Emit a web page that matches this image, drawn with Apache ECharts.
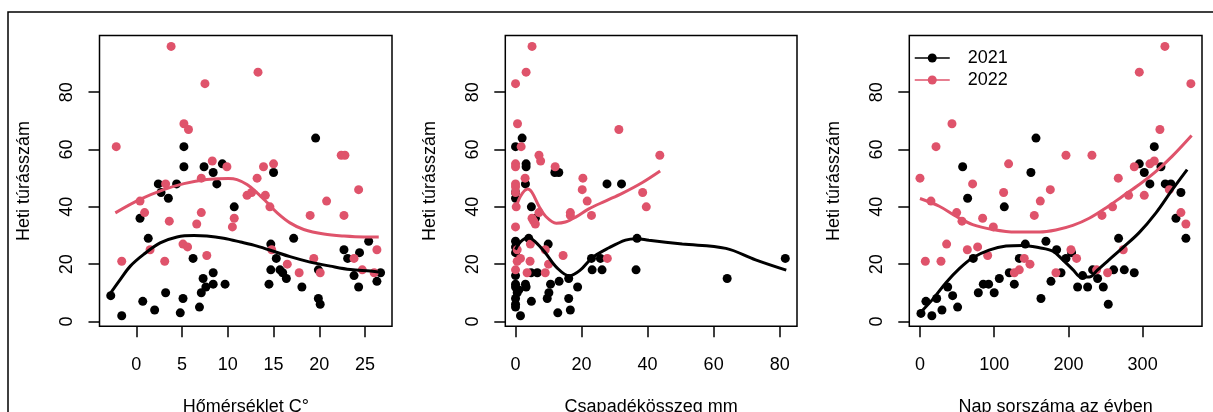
<!DOCTYPE html>
<html>
<head>
<meta charset="utf-8">
<script src="https://cdn.jsdelivr.net/npm/echarts@6/dist/echarts.min.js"></script>
<style>
html,body{margin:0;padding:0;background:#fff;}
#chart{width:1213px;height:412px;}
</style>
</head>
<body>
<div id="chart"></div>
<script>
// ---------- DATA ----------
const years = ['2021', '2022'];
const yTitle = 'Heti túrásszám';
const xTitles = ['Hőmérséklet C°', 'Csapadékösszeg mm', 'Nap sorszáma az évben'];
const yTicks = [0, 20, 40, 60, 80];
const tempTicks = [0, 5, 10, 15, 20, 25];
const precipTicks = [0, 20, 40, 60, 80];
const dayTicks = [0, 100, 200, 300];

// Panel 1: temperature vs weekly hikes
const temp2021 = [[-2.8,9],[-1.6,2],[0.4,36],[0.7,7],[1.3,29],[2.0,4],[2.4,48],[2.7,45],[3.2,10],[3.5,43],[4.4,48],[4.8,3],[5.1,8],[5.2,61],[5.2,54],[6.2,22],[6.9,5],[7.1,10],[7.3,15],[7.6,12],[8.4,13],[8.4,17],[9.7,13],[7.4,54],[8.4,52],[8.8,48],[9.4,55],[10.7,40],[14.5,13],[14.7,27],[15.0,52],[15.3,22],[14.7,18],[15.7,18],[16.0,17],[16.4,15],[17.2,29],[18.1,12],[19.6,64],[19.9,18],[19.9,8],[20.1,6],[22.7,25],[23.1,22],[23.8,16],[24.3,12],[24.4,24],[25.4,28],[26.3,14],[26.7,17]];
const temp2022 = [[-2.2,61],[-1.6,21],[0.4,42],[0.9,38],[1.5,25],[3.2,48],[3.1,21],[3.6,35],[3.8,96],[5.2,69],[5.7,67],[5.1,27],[5.6,26],[6.6,34],[7.1,38],[7.1,50],[7.5,83],[7.7,23],[8.3,56],[9.9,54],[10.5,33],[10.7,36],[12.1,44],[12.6,45],[13.3,87],[13.2,50],[13.9,54],[14.1,44],[14.6,40],[15.0,55],[14.8,25],[16.5,20],[17.8,17],[19.0,37],[19.4,22],[20.1,17],[20.8,42],[22.4,58],[22.8,58],[22.7,37],[23.8,22],[24.3,46],[24.7,18],[26.3,25],[26.0,17]];
const tempSmooth2021 = [[-2.8,10],[-1.75,14.7],[-0.66,19.3],[0.8,23.4],[2.6,27.4],[4.45,29.5],[6.3,30],[7.7,29.8],[9.55,29],[11.4,27.7],[13.2,26.3],[15.0,24.5],[16.8,22.6],[19.0,20.7],[21.2,19.3],[23.4,18.1],[25.6,17.6],[26.7,17.2]];
const tempSmooth2022 = [[-2.3,37.9],[0.4,42.6],[3.0,46],[5.2,48.1],[7.7,49.5],[10.1,49.9],[11.0,49.5],[12.1,47.8],[13.2,44.9],[14.3,41.5],[15.4,37.9],[16.8,34.4],[18.3,32.1],[20.5,30.5],[22.7,29.8],[24.9,29.5],[26.5,29.5]];

// Panel 2: precipitation vs weekly hikes
const precip2021 = [[2.0,64],[0,61],[3.2,55],[3.2,54],[11.9,52],[13.1,52],[3.0,48],[27.7,48],[32.1,48],[0,45],[0,43],[4.8,40],[6.0,36],[0,28],[0,26],[0,24],[4.0,29],[9.9,27],[36.8,29],[23,22],[25.7,22],[23.2,18],[26.2,18],[36.5,18],[81.7,22],[64.1,15],[4.7,17],[6.6,17],[0,16],[0,13],[0,12],[0.5,10],[3,13],[3.2,12],[0,8],[0,6],[0,5],[1.5,2],[4.8,7],[10.6,13],[10.1,10],[9.6,8],[13.2,14],[16.1,15],[18.8,12],[16.1,8],[16.6,4],[12.8,3],[1,11]];
const precip2022 = [[0,83],[3.2,87],[5.0,96],[0.6,69],[1.7,61],[0,55],[0,54],[7.1,58],[7.6,56],[2.9,50],[0,48],[0,47],[0,45],[0.2,40],[12,54],[20.4,50],[20.2,46],[21.7,42],[31.3,67],[43.7,58],[38.5,45],[39.6,40],[23.0,37],[16.6,38],[16.6,37],[0,33],[5,36],[5.5,35],[6,34],[7.1,38],[4.5,27],[14.4,23],[27.8,22],[0,18],[0.5,25],[1.5,22],[0.5,21],[4.4,21],[3.5,17],[9.0,17],[10,20],[9,25]];
const precipSmooth2021 = [[0,25.1],[1.5,27.8],[3.9,29.2],[6,27.8],[9,24],[12.5,18.8],[16.3,15.9],[19.5,17.8],[23.2,22.2],[28.3,25.7],[33.3,28.4],[36.7,28.9],[40.4,28.3],[50.5,27],[63.7,25.5],[72.7,21.5],[82,17.9]];
const precipSmooth2022 = [[0,39.1],[1.5,43.7],[3.7,46.2],[5,45],[7.1,40.2],[9.1,36.7],[12.3,34.3],[15.1,34.7],[18.2,36.4],[22.2,39.3],[27.2,42],[32.3,44.7],[38.3,48.4],[43.8,52.5]];

// Panel 3: day of year vs weekly hikes
const day2021 = [[1.3,2.8],[8,7],[16,2],[22.5,8],[29.6,4],[37.3,12],[44,9],[50.7,5],[57.5,54],[64.2,43],[71.8,22],[78.6,10],[85.3,13],[92.5,13],[100,10],[106.9,15],[113.6,40],[120.3,17],[127.1,13],[133.8,22],[141.9,27],[149.5,52],[156.3,64],[163,8],[169.7,28],[176.5,14],[184.1,25],[190,17],[196.7,22],[204.3,24],[212.4,12],[219.1,16],[225.9,12],[232.6,18],[239.3,15],[247,12],[253.7,6],[260.9,18],[267.6,29],[275.3,18],[288.7,17],[295.5,55],[302.2,52],[309.8,48],[315.7,61],[324.7,54],[330.5,48],[338.1,48],[344.9,36],[351.6,45],[358.3,29]];
const day2022 = [[0,50],[7.2,21],[14.8,42],[21.6,61],[28.3,21],[35.9,27],[43.1,69],[49.4,38],[56.6,35],[63.8,25],[70.9,48],[77.7,26],[84.4,36],[91.2,23],[98.8,33],[112.7,45],[119.4,55],[127.1,17],[133.8,18],[140.5,22],[148.2,20],[154,37],[162.1,42],[175.6,46],[183.2,17],[196.7,58],[203.4,25],[211,22],[231.7,58],[238,18],[245.2,37],[252.8,17],[259.5,40],[267.2,50],[273.9,25],[281.1,44],[288.7,54],[295.5,87],[302.2,44],[309.8,55],[315.7,56],[323.3,67],[330,96],[336,46],[351.6,38],[358.3,34],[365,83]];
const daySmooth2021 = [[1.3,3.3],[17,7.7],[35,13.5],[53,18.4],[71,22.2],[93,24.9],[116,26.3],[138,26.5],[161,25.7],[179,24.5],[192,21.6],[206,18.1],[217,15.5],[228,15.5],[239,17.9],[255,21.6],[273,25.7],[295,30.9],[318,37.9],[340,46],[360,53]];
const daySmooth2022 = [[0,42.9],[26,40.2],[48.5,36.7],[71,33.8],[98,32.1],[129,31.2],[161,31.2],[183,31.9],[206,33.5],[228,36],[251,39.7],[273,43.7],[295.5,47.8],[318,52.4],[340,57.7],[366,64.9]];

// ---------- LAYOUT / STYLE ----------
const FONT = '"Liberation Sans", Arial, sans-serif';
const BLACK = '#000000';
const PINK = '#DF536B';
const panels = [
  {grid: {left: 99.5, top: 35.5, width: 292.5, height: 290.8}, xMin: -4.03, xMax: 27.95, ticks: tempTicks,
   pts: [temp2021, temp2022], smooth: [tempSmooth2021, tempSmooth2022]},
  {grid: {left: 505.3, top: 35.5, width: 291.7, height: 290.8}, xMin: -3.1, xMax: 85.25, ticks: precipTicks,
   pts: [precip2021, precip2022], smooth: [precipSmooth2021, precipSmooth2022]},
  {grid: {left: 909.3, top: 35.5, width: 292.7, height: 290.8}, xMin: -14.4, xMax: 380, ticks: dayTicks,
   pts: [day2021, day2022], smooth: [daySmooth2021, daySmooth2022]}
];
const yMin = -1.7, yMax = 99.8;
const colors = [BLACK, PINK];

const grid = [], xAxis = [], yAxis = [], lineSeries = [], scatterSeries = [];
panels.forEach((p, i) => {
  grid.push(Object.assign({show: true, borderColor: BLACK, borderWidth: 1.5, backgroundColor: 'transparent',
    containLabel: false, outerBoundsMode: 'none'}, p.grid));
  xAxis.push({
    type: 'value', gridIndex: i, min: p.xMin, max: p.xMax, position: 'bottom',
    axisLine: {show: false, onZero: false},
    splitLine: {show: false},
    axisTick: {show: true, length: 11, inside: false, customValues: p.ticks, lineStyle: {color: BLACK, width: 1.5}},
    axisLabel: {customValues: p.ticks, margin: 30, color: BLACK, fontSize: 18, fontFamily: FONT},
    name: xTitles[i], nameLocation: 'middle', nameGap: 72,
    nameTextStyle: {color: BLACK, fontSize: 18, fontFamily: FONT}
  });
  yAxis.push({
    type: 'value', gridIndex: i, min: yMin, max: yMax, position: 'left',
    axisLine: {show: false, onZero: false},
    splitLine: {show: false},
    axisTick: {show: true, length: 11, inside: false, customValues: yTicks, lineStyle: {color: BLACK, width: 1.5}},
    axisLabel: {customValues: yTicks, rotate: 90, margin: 23, color: BLACK, fontSize: 18, fontFamily: FONT},
    name: yTitle, nameLocation: 'middle', nameGap: 66, nameRotate: 90,
    nameTextStyle: {color: BLACK, fontSize: 18, fontFamily: FONT}
  });
  years.forEach((yr, k) => {
    lineSeries.push({
      type: 'line', name: yr, xAxisIndex: i, yAxisIndex: i,
      data: p.smooth[k], smooth: 0.35, symbol: 'circle', showSymbol: false,
      lineStyle: {color: colors[k], width: 3}, itemStyle: {color: colors[k]},
      z: 4, silent: true
    });
    scatterSeries.push({
      type: 'scatter', name: yr, xAxisIndex: i, yAxisIndex: i,
      data: p.pts[k], symbol: 'circle', symbolSize: 9,
      itemStyle: {color: colors[k], opacity: 1},
      z: 2 + k * 0.1
    });
  });
});

const option = {
  animation: false,
  backgroundColor: '#ffffff',
  textStyle: {fontFamily: FONT},
  grid, xAxis, yAxis,
  legend: {
    data: years, orient: 'vertical', left: 914, top: 49, padding: 0,
    itemWidth: 35, itemHeight: 11.3, itemGap: 4,
    lineStyle: {width: 1.5},
    textStyle: {color: BLACK, fontSize: 18, fontFamily: FONT, padding: [0, 0, 0, 13]}
  },
  graphic: [{
    type: 'polyline', silent: true,
    shape: {points: [[8, 420], [8, 12], [1220, 12]]},
    style: {stroke: BLACK, lineWidth: 1.5, fill: null}
  }],
  series: lineSeries.concat(scatterSeries)
};

const chart = echarts.init(document.getElementById('chart'), null, {renderer: 'canvas'});
chart.setOption(option);
</script>
</body>
</html>
